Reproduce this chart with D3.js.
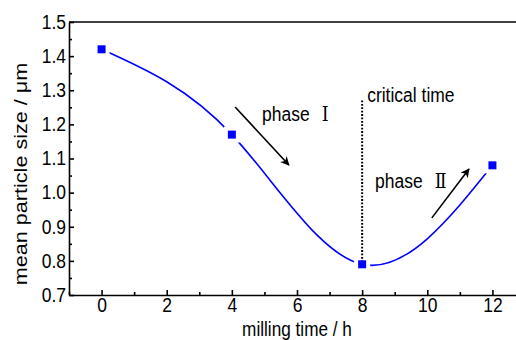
<!DOCTYPE html>
<html>
<head>
<meta charset="utf-8">
<script src="https://cdn.jsdelivr.net/npm/d3@7"></script>
<style>
  body { margin: 0; background: #fff; }
  svg { display: block; font-family: "Liberation Sans", Arial, sans-serif; }
</style>
</head>
<body>
<svg id="chart"></svg>
<script>
// data
var millTime = [0, 4, 8, 12];
var particleSize = [1.42, 1.17, 0.79, 1.08];
var xMajor = [0, 2, 4, 6, 8, 10, 12];
var xMinor = [-1, 1, 3, 5, 7, 9, 11, 13];
var yMajor = [0.7, 0.8, 0.9, 1.0, 1.1, 1.2, 1.3, 1.4, 1.5];
var yMinor = [0.75, 0.85, 0.95, 1.05, 1.15, 1.25, 1.35, 1.45];
var criticalTime = 8, criticalTop = 1.27;
// annotation arrows, in data units [x0, y0, x1, y1]
var arrowOne = [4.10, 1.251, 5.75, 1.081];
var arrowTwo = [10.14, 0.926, 11.28, 1.069];

var svgWidth = 516, svgHeight = 340;
var margin = { top: 22, left: 69, bottom: 45 };
var plotH = svgHeight - margin.top - margin.bottom;
var sy = 1.2; // the source picture is stretched vertically

var svg = d3.select('#chart').attr('width', svgWidth).attr('height', svgHeight);

var x = d3.scaleLinear().domain([-1, 13]).range([margin.left, margin.left + 456]);
var y = d3.scaleLinear().domain([0.7, 1.5]).range([margin.top + plotH, margin.top]);

svg.append('defs').append('marker')
    .attr('id', 'head')
    .attr('markerUnits', 'userSpaceOnUse')
    .attr('viewBox', '0 0 10 10')
    .attr('refX', 9).attr('refY', 5)
    .attr('markerWidth', 11).attr('markerHeight', 9)
    .attr('orient', 'auto')
  .append('path')
    .attr('d', 'M0,0 L10,5 L0,10 L3,5 Z')
    .attr('fill', '#000');

// axes
var bottom = svg.append('g')
    .attr('transform', 'translate(0,' + y(0.7) + ')')
    .call(d3.axisBottom(x).tickValues(xMajor).tickSize(-5).tickSizeOuter(0).tickPadding(2).tickFormat(d3.format('d')));
bottom.append('g').call(d3.axisBottom(x).tickValues(xMinor).tickSize(-3).tickFormat(''))
    .select('.domain').remove();
bottom.selectAll('.tick text').attr('transform', 'scale(1,' + sy + ')');

var left = svg.append('g')
    .attr('transform', 'translate(' + x(-1) + ',0)')
    .call(d3.axisLeft(y).tickValues(yMajor).tickSize(-5).tickSizeOuter(0).tickPadding(3).tickFormat(d3.format('.1f')));
left.append('g').call(d3.axisLeft(y).tickValues(yMinor).tickSize(-3).tickFormat(''))
    .select('.domain').remove();
left.selectAll('.tick text').attr('transform', 'scale(1,' + sy + ')').attr('dy', '0.3em');

svg.selectAll('.tick text').attr('font-size', 17.5).attr('font-family', '"Liberation Sans", Arial, sans-serif').attr('fill', '#000');
svg.selectAll('.domain, .tick line').attr('stroke', '#000').attr('stroke-width', 1.6);

svg.append('line')
    .attr('x1', x(-1)).attr('x2', x(13))
    .attr('y1', y(1.5)).attr('y2', y(1.5))
    .attr('stroke', '#000').attr('stroke-width', 1.6);

// axis titles
svg.append('text')
    .attr('transform', 'translate(' + x(6) + ',335.5) scale(1,' + sy + ')')
    .attr('text-anchor', 'middle')
    .attr('font-size', 17.2)
    .text('milling time / h');

svg.append('text')
    .attr('transform', 'translate(27,174) rotate(-90) scale(' + sy + ',1)')
    .attr('text-anchor', 'middle')
    .attr('font-size', 18)
    .text('mean particle size / μm');

// curve
var pts = millTime.map(function(t, i) { return { t: t, v: particleSize[i] }; });
var line = d3.line()
    .x(function(d) { return x(d.t); })
    .y(function(d) { return y(d.v); })
    .curve(d3.curveNatural);

svg.append('path')
    .datum(pts)
    .attr('fill', 'none')
    .attr('stroke', '#0000ff')
    .attr('stroke-width', 1.6)
    .attr('d', line);

// white gaps round the symbols
svg.selectAll('.halo').data(pts).enter().append('rect')
    .attr('class', 'halo')
    .attr('x', function(d) { return x(d.t) - 8; })
    .attr('y', function(d) { return y(d.v) - 8; })
    .attr('width', 16).attr('height', 16)
    .attr('fill', '#fff');

// critical time marker
svg.append('line')
    .attr('x1', x(criticalTime)).attr('x2', x(criticalTime))
    .attr('y1', y(criticalTop)).attr('y2', y(particleSize[2]))
    .attr('stroke', '#000')
    .attr('stroke-width', 2)
    .attr('stroke-dasharray', '1.8,1.6');

svg.selectAll('.pt').data(pts).enter().append('rect')
    .attr('class', 'pt')
    .attr('x', function(d) { return x(d.t) - 4; })
    .attr('y', function(d) { return y(d.v) - 4; })
    .attr('width', 8).attr('height', 8)
    .attr('fill', '#0000ff');

// annotations
[arrowOne, arrowTwo].forEach(function(a) {
  svg.append('line')
      .attr('x1', x(a[0])).attr('y1', y(a[1]))
      .attr('x2', x(a[2])).attr('y2', y(a[3]))
      .attr('stroke', '#000').attr('stroke-width', 1.6)
      .attr('marker-end', 'url(#head)');
});

function label(tx, ty, words, numeral) {
  var t = svg.append('text')
      .attr('transform', 'translate(' + tx + ',' + ty + ') scale(1,' + sy + ')')
      .attr('font-size', 17.5);
  t.append('tspan').text(words);
  if (numeral) {
    t.append('tspan')
        .attr('font-family', '"Liberation Serif", "DejaVu Serif", serif')
        .attr('dx', 12)
        .text(numeral);
  }
}
label(x(criticalTime) + 5, 102, 'critical time');
label(262, 121, 'phase', 'Ⅰ');
label(375, 188, 'phase', 'Ⅱ');
</script>
</body>
</html>
